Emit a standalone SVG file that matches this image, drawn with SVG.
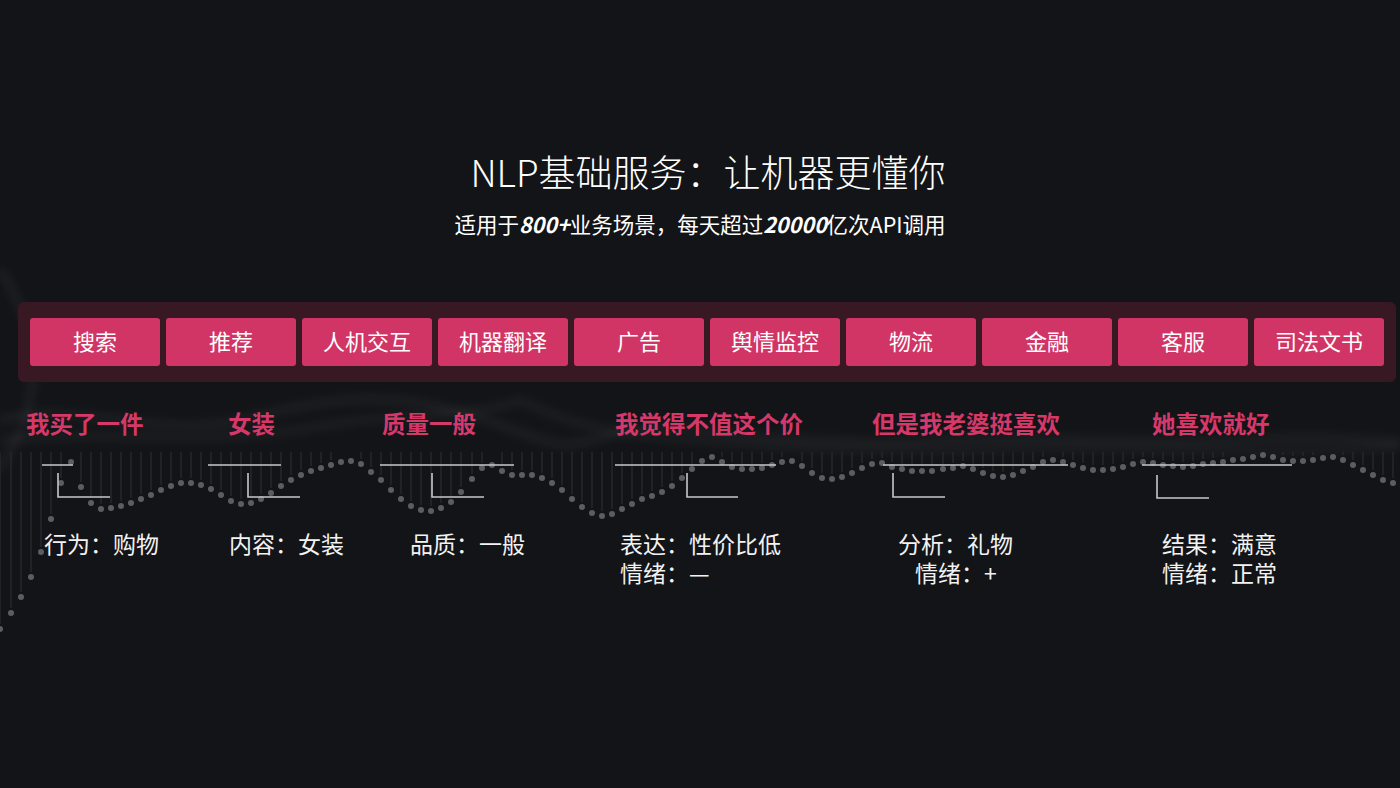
<svg xmlns="http://www.w3.org/2000/svg" width="1400" height="788" viewBox="0 0 1400 788">
<defs>
<style>
.btn{fill:#d13565}
.btxt{font-family:"Noto Sans CJK SC",sans-serif;font-size:22px;fill:#ffffff;text-anchor:middle}
.pink{font-family:"Noto Sans CJK SC",sans-serif;font-size:23.5px;font-weight:700;fill:#d6386a}
.wt{font-family:"Noto Sans CJK SC",sans-serif;font-size:23px;fill:#f2f2f2}
.ln{fill:none;stroke:#c8c8c8;stroke-width:1.6}
</style>
<marker id="dot" markerUnits="userSpaceOnUse" markerWidth="8" markerHeight="8" refX="4" refY="4" viewBox="0 0 8 8">
<circle cx="4" cy="4" r="3" fill="#5c5d61"/>
</marker>
<filter id="blur" x="-10%" y="-50%" width="120%" height="200%"><feGaussianBlur stdDeviation="4"/></filter>
</defs>
<rect width="1400" height="788" fill="#131417"/>

<g id="smoke" filter="url(#blur)" fill="none" stroke="#ffffff" stroke-opacity="0.06" stroke-width="6">
<path d="M0,270 C20,300 40,340 30,400 C25,430 10,450 0,470"/>
<path d="M0,420 C80,400 160,440 240,420 C320,400 380,390 450,410 C500,420 540,445 570,445 C600,440 640,420 700,430 C780,440 860,445 950,440 C1050,435 1150,445 1250,440 C1320,436 1370,440 1400,442"/>
<path d="M0,440 C100,430 200,445 300,430 C400,410 470,420 520,400 C560,420 600,435 700,440 C800,450 900,452 1000,448 C1100,445 1200,455 1400,447" stroke-opacity="0.05"/>
</g>

<g id="bars" fill="none" stroke="#26272b" stroke-width="1.5">
<path d="M0,452V624M11,452V608M21,452V592M31,452V572M41,452V547M51,452V514M61,452V478M81,452V482M91,452V498M101,452V504M111,452V503M121,452V501M131,452V498M141,452V494M151,452V490M161,452V485M171,452V481M181,452V478M191,452V478M201,452V480M211,452V484M221,452V490M231,452V496M241,452V499M251,452V498M261,452V494M271,452V488M281,452V481M291,452V475M301,452V470M311,452V466M321,452V463M331,452V460M361,452V459M371,452V467M381,452V475M391,452V485M401,452V494M411,452V501M421,452V505M431,452V506M441,452V503M451,452V497M461,452V487M472,452V474M482,452V463M502,452V466M512,452V470M522,452V470M532,452V470M542,452V473M552,452V478M562,452V485M572,452V494M582,452V502M592,452V508M602,452V511M612,452V509M622,452V504M632,452V499M642,452V494M652,452V491M662,452V487M672,452V481M682,452V473M692,452V464M722,452V457M732,452V462M742,452V464M752,452V464M762,452V463M772,452V460M782,452V457M802,452V461M812,452V468M822,452V473M832,452V474M842,452V472M852,452V468M862,452V463M872,452V459M882,452V458M892,452V462M902,452V464M912,452V466M922,452V466M932,452V466M943,452V464M953,452V463M963,452V461M973,452V464M983,452V468M993,452V471M1003,452V472M1013,452V470M1023,452V466M1033,452V462M1043,452V457M1063,452V457M1073,452V460M1083,452V463M1093,452V465M1103,452V465M1113,452V464M1123,452V462M1133,452V459M1143,452V457M1153,452V458M1163,452V460M1173,452V461M1183,452V462M1193,452V461M1203,452V459M1213,452V458M1223,452V457M1283,452V455M1293,452V456M1303,452V456M1313,452V455M1343,452V455M1353,452V460M1363,452V465M1373,452V470M1383,452V475M1393,452V478"/>
</g>

<g id="dots">
<polyline fill="none" stroke="none" marker-start="url(#dot)" marker-mid="url(#dot)" marker-end="url(#dot)" points="0,629 11,613 21,597 31,577 41,552 51,519 61,483 71,462 81,487 91,503 101,509 111,508 121,506 131,503 141,499 151,495 161,490 171,486 181,483 191,483 201,485 211,489 221,495 231,501 241,504 251,503 261,499 271,493 281,486 291,480 301,475 311,471 321,468 331,465 341,462 351,461 361,464 371,472 381,480 391,490 401,499 411,506 421,510 431,511 441,508 451,502 461,492 472,479 482,468 492,465 502,471 512,475 522,475 532,475 542,478 552,483 562,490 572,499 582,507 592,513 602,516 612,514 622,509 632,504 642,499 652,496 662,492 672,486 682,478 692,469 702,461 712,457 722,462 732,467 742,469 752,469 762,468 772,465 782,462 792,461 802,466 812,473 822,478 832,479 842,477 852,473 862,468 872,464 882,463 892,467 902,469 912,471 922,471 932,471 943,469 953,468 963,466 973,469 983,473 993,476 1003,477 1013,475 1023,471 1033,467 1043,462 1053,460 1063,462 1073,465 1083,468 1093,470 1103,470 1113,469 1123,467 1133,464 1143,462 1153,463 1163,465 1173,466 1183,467 1193,466 1203,464 1213,463 1223,462 1233,460 1243,459 1253,457 1263,455 1273,457 1283,460 1293,461 1303,461 1313,460 1323,458 1333,457 1343,460 1353,465 1363,470 1373,475 1383,480 1393,483"/>
</g>

<g id="title">
<text x="708" y="187" text-anchor="middle" font-family="Noto Sans CJK SC, sans-serif" font-size="37" fill="#ffffff" font-weight="300">NLP基础服务：让机器更懂你</text>
<text x="700" y="233" text-anchor="middle" font-family="Noto Sans CJK SC, sans-serif" font-size="21.5" fill="#ffffff">适用于<tspan font-style="italic" font-weight="700">800+</tspan>业务场景，每天超过<tspan font-style="italic" font-weight="700">20000</tspan>亿次API调用</text>
</g>

<rect id="panel" x="18" y="302" width="1378" height="80" rx="6" fill="#381923"/>

<g id="n1"><rect class="btn" x="30" y="318" width="130" height="48" rx="3"/><text class="btxt" x="95" y="350">搜索</text></g>
<g id="n2"><rect class="btn" x="166" y="318" width="130" height="48" rx="3"/><text class="btxt" x="231" y="350">推荐</text></g>
<g id="n3"><rect class="btn" x="302" y="318" width="130" height="48" rx="3"/><text class="btxt" x="367" y="350">人机交互</text></g>
<g id="n4"><rect class="btn" x="438" y="318" width="130" height="48" rx="3"/><text class="btxt" x="503" y="350">机器翻译</text></g>
<g id="n5"><rect class="btn" x="574" y="318" width="130" height="48" rx="3"/><text class="btxt" x="639" y="350">广告</text></g>
<g id="n6"><rect class="btn" x="710" y="318" width="130" height="48" rx="3"/><text class="btxt" x="775" y="350">舆情监控</text></g>
<g id="n7"><rect class="btn" x="846" y="318" width="130" height="48" rx="3"/><text class="btxt" x="911" y="350">物流</text></g>
<g id="n8"><rect class="btn" x="982" y="318" width="130" height="48" rx="3"/><text class="btxt" x="1047" y="350">金融</text></g>
<g id="n9"><rect class="btn" x="1118" y="318" width="130" height="48" rx="3"/><text class="btxt" x="1183" y="350">客服</text></g>
<g id="n10"><rect class="btn" x="1254" y="318" width="130" height="48" rx="3"/><text class="btxt" x="1319" y="350">司法文书</text></g>

<g id="s1"><text class="pink" x="26" y="433">我买了一件</text><text class="wt" x="44" y="553">行为：购物</text></g>
<g id="s2"><text class="pink" x="228" y="433">女装</text><text class="wt" x="229" y="553">内容：女装</text></g>
<g id="s3"><text class="pink" x="382" y="433">质量一般</text><text class="wt" x="410" y="553">品质：一般</text></g>
<g id="s4"><text class="pink" x="615" y="433">我觉得不值这个价</text><text class="wt"><tspan x="620" y="553">表达：性价比低</tspan><tspan x="620" y="582">情绪：—</tspan></text></g>
<g id="s5"><text class="pink" x="872" y="433">但是我老婆挺喜欢</text><text class="wt"><tspan x="898" y="553">分析：礼物</tspan><tspan x="915" y="582">情绪：+</tspan></text></g>
<g id="s6"><text class="pink" x="1152" y="433">她喜欢就好</text><text class="wt"><tspan x="1162" y="553">结果：满意</tspan><tspan x="1162" y="582">情绪：正常</tspan></text></g>

<g id="connectors" class="ln">
<path class="ln" d="M42,465H73M58,473V497H110"/>
<path class="ln" d="M208,465H281M248,473V497H300"/>
<path class="ln" d="M380,465H514M432,473V497H484"/>
<path class="ln" d="M615,465H776M687,473V497H738"/>
<path class="ln" d="M883,465H1068M893,473V497H945"/>
<path class="ln" d="M1142,465H1292M1157,475V498H1209"/>
</g>
</svg>
